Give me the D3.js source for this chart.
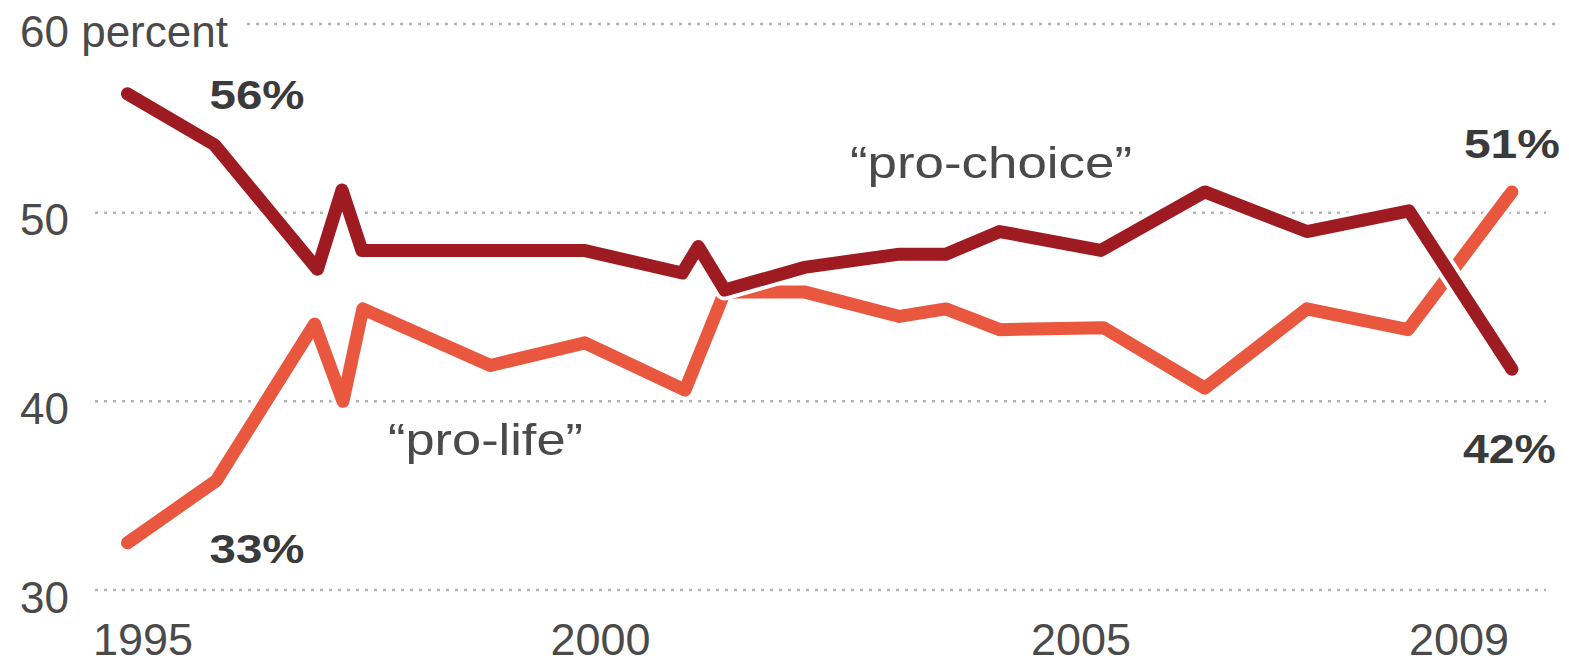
<!DOCTYPE html>
<html>
<head>
<meta charset="utf-8">
<script src="https://cdn.jsdelivr.net/npm/d3@7"></script>
<style>
  html, body { margin: 0; padding: 0; background: #fff; }
  svg { display: block; font-family: "Liberation Sans", Arial, Helvetica, sans-serif; }
</style>
</head>
<body>
<svg id="chart" width="1569" height="665"></svg>
<script>
// ---- data ----
const proChoiceYears  = [1995.0, 1995.92, 1997.01, 1997.27, 1997.48, 1999.83, 2000.87, 2001.04, 2001.32, 2002.16, 2003.17, 2003.66, 2004.23, 2005.30, 2006.40, 2007.48, 2008.56, 2009.65];
const proChoiceValues = [56.3,   53.6,    47.0,    51.2,    48.0,    48.0,    46.8,    48.2,    45.9,    47.1,    47.8,    47.8,    49.0,    48.0,    51.1,    49.0,    50.1,    41.7];
const proLifeYears    = [1995.0, 1995.94, 1996.98, 1997.28, 1997.49, 1998.84, 1999.84, 2000.90, 2001.32, 2002.16, 2003.17, 2003.66, 2004.23, 2005.33, 2006.40, 2007.48, 2008.55, 2009.65];
const proLifeValues   = [32.5,   35.8,    44.1,    40.0,    44.9,    41.9,    43.1,    40.6,    45.8,    45.8,    44.5,    44.9,    43.8,    43.9,    40.7,    44.9,    43.8,    51.1];
const yTickValues = [30, 40, 50, 60];
const xTickValues = [1995, 2000, 2005, 2009];
const seriesLabels = ["\u201Cpro-choice\u201D", "\u201Cpro-life\u201D"];
const endLabels = { choiceStart: "56%", lifeStart: "33%", lifeEnd: "51%", choiceEnd: "42%" };

// ---- drawing ----
const svg = d3.select("#chart");
const x = d3.scaleLinear().domain([1995, 2010]).range([127.5, 1545]);
const y = d3.scaleLinear().domain([30, 60]).range([590, 24]);

const choiceColor = "#9f1b22";
const lifeColor = "#e9573f";

// gridlines
svg.append("g").selectAll("line")
  .data(yTickValues)
  .join("line")
  .attr("x1", d => d === 60 ? 247 : 95)
  .attr("x2", d => d === 60 ? 1560 : 1546)
  .attr("y1", d => y(d))
  .attr("y2", d => y(d))
  .attr("stroke", "#b4b4b4")
  .attr("stroke-width", 2.5)
  .attr("stroke-dasharray", "3 6");

// y axis labels
const yAxis = svg.append("g")
  .attr("transform", "translate(20,0)")
  .call(d3.axisRight(y).tickValues(yTickValues).tickSize(0).tickPadding(0)
    .tickFormat(d => d === 60 ? "60 percent" : d));
yAxis.select(".domain").remove();
yAxis.selectAll("text")
  .attr("font-size", 44)
  .attr("font-family", "Liberation Sans, Arial, sans-serif")
  .attr("fill", "#4a4a4a")
  .attr("dy", "0.5em");

// x axis labels
const xAxis = svg.append("g")
  .attr("transform", "translate(0,620)")
  .call(d3.axisBottom(x).tickValues(xTickValues).tickSize(0).tickPadding(3)
    .tickFormat(d3.format("d")));
xAxis.select(".domain").remove();
xAxis.selectAll("text")
  .attr("font-size", 45)
  .attr("font-family", "Liberation Sans, Arial, sans-serif")
  .attr("fill", "#4a4a4a")
  .attr("dx", d => d === 1995 ? 15 : (d === 2000 ? 0 : 8));

const line = d3.line().x(d => x(d[0])).y(d => y(d[1]));
const choiceData = proChoiceYears.map((yr, i) => [yr, proChoiceValues[i]]);
const lifeData = proLifeYears.map((yr, i) => [yr, proLifeValues[i]]);

function drawSeries(data, color) {
  svg.append("path").datum(data).attr("d", line)
    .attr("fill", "none").attr("stroke", "#fff").attr("stroke-width", 21)
    .attr("stroke-linejoin", "round").attr("stroke-linecap", "round");
  svg.append("path").datum(data).attr("d", line)
    .attr("fill", "none").attr("stroke", color).attr("stroke-width", 13)
    .attr("stroke-linejoin", "round").attr("stroke-linecap", "round");
}
drawSeries(lifeData, lifeColor);
drawSeries(choiceData, choiceColor);

// end value labels
const nC = choiceData.length - 1, nL = lifeData.length - 1;
const valLabels = [
  { t: endLabels.choiceStart, x: x(choiceData[0][0]) + 82, y: y(choiceData[0][1]) + 15, w: 95 },
  { t: endLabels.lifeStart,   x: x(lifeData[0][0]) + 82,   y: y(lifeData[0][1]) + 20,   w: 95 },
  { t: endLabels.lifeEnd,     x: x(lifeData[nL][0]) - 48,  y: y(lifeData[nL][1]) - 34,  w: 96 },
  { t: endLabels.choiceEnd,   x: x(choiceData[nC][0]) - 49, y: y(choiceData[nC][1]) + 94, w: 93 }
];
svg.append("g").selectAll("text").data(valLabels).join("text")
  .attr("x", d => d.x).attr("y", d => d.y)
  .attr("font-size", 41).attr("font-weight", "bold")
  .attr("fill", "#3a3a3a")
  .attr("textLength", d => d.w).attr("lengthAdjust", "spacingAndGlyphs")
  .text(d => d.t);

// series labels
const serLabels = [
  { t: seriesLabels[0], x: 850, y: 178, w: 282 },
  { t: seriesLabels[1], x: 388, y: 455, w: 195 }
];
svg.append("g").selectAll("text").data(serLabels).join("text")
  .attr("x", d => d.x).attr("y", d => d.y)
  .attr("font-size", 44)
  .attr("fill", "#4a4a4a")
  .attr("textLength", d => d.w).attr("lengthAdjust", "spacingAndGlyphs")
  .text(d => d.t);
</script>
</body>
</html>
